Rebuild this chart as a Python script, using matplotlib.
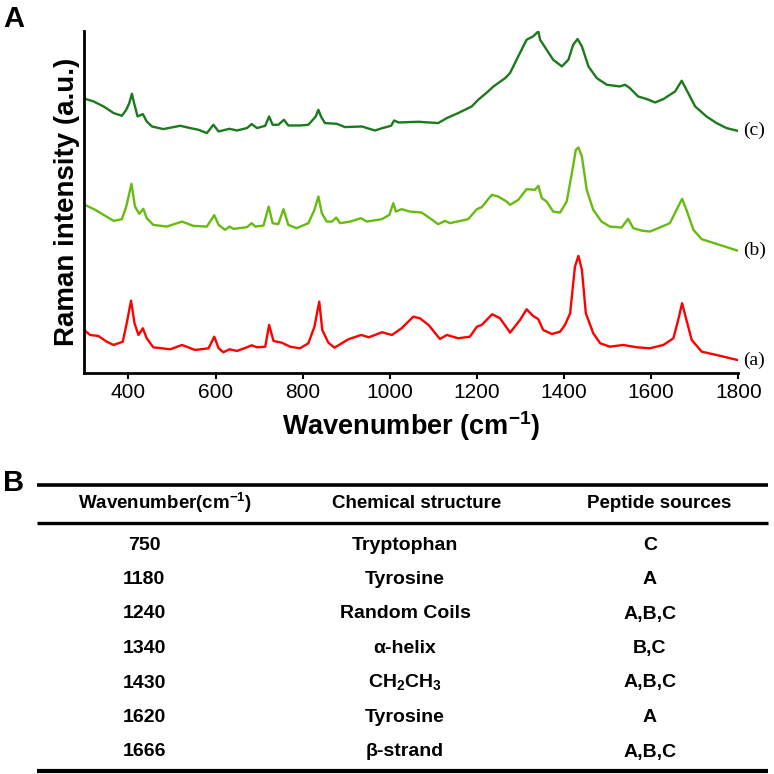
import numpy as np
import matplotlib
matplotlib.use('Agg')
import matplotlib.pyplot as plt

plt.rcParams['font.family'] = ['Liberation Sans', 'DejaVu Sans']
plt.rcParams['mathtext.fontset'] = 'custom'
plt.rcParams['mathtext.rm'] = 'Liberation Sans'
plt.rcParams['mathtext.bf'] = 'Liberation Sans:bold'

# spectrum (a) - red
wn_a = [300, 312, 331, 350, 366, 387, 396, 406, 414, 423, 433, 442, 457, 496, 523, 553, 584, 597, 607, 618,
        632, 649, 672, 683, 695, 714, 723, 733, 752, 771, 794, 813, 827, 838, 845, 859, 873, 905, 934, 952,
        982, 1005, 1027, 1054, 1069, 1089, 1115, 1131, 1157, 1184, 1200, 1211, 1235, 1253, 1272, 1276, 1299,
        1314, 1329, 1341, 1352, 1372, 1391, 1402, 1414, 1425, 1433, 1441, 1450, 1467, 1483, 1505, 1536, 1567,
        1597, 1628, 1651, 1662, 1671, 1679, 1693, 1716, 1750, 1798]
int_a = [42.3, 38, 37, 31.3, 28, 31.3, 49.7, 72.3, 49.7, 38, 44.7, 34.7, 25.7, 23.7, 28, 23, 24.7, 36.3, 24.7, 20.7,
         23.7, 22, 25.7, 27.7, 25.7, 26.3, 48, 32, 30.3, 26.3, 24.7, 29.7, 46.3, 71.3, 43, 30.3, 25.3, 33.7, 38, 35.7,
         40.7, 38, 44.7, 56.3, 54.7, 48, 34, 38, 34.7, 36.3, 46.3, 48, 58.7, 54.7, 43, 40.3, 53,
         63.7, 57, 53.7, 43, 39, 41.3, 48, 59.7, 106.3, 117, 103, 59.7, 39.7, 29.7, 26.3, 28, 25.7,
         24.7, 28, 34.7, 53, 69.7, 56.3, 33, 21.3, 18, 13]

# spectrum (b) - light green
wn_b = [300, 324, 343, 366, 385, 395, 407, 415, 425, 434, 442, 457, 488, 523, 549, 580, 597, 607, 622, 632,
        641, 672, 683, 691, 710, 722, 731, 744, 756, 767, 786, 813, 827, 836, 844, 855, 867, 877, 886, 909,
        934, 947, 982, 999, 1008, 1014, 1027, 1046, 1073, 1092, 1111, 1127, 1138, 1180, 1200, 1211, 1234, 1249,
        1268, 1276, 1295, 1314, 1333, 1341, 1349, 1360, 1375, 1391, 1406, 1418, 1427, 1433, 1441, 1452, 1467,
        1486, 1505, 1532, 1547, 1559, 1578, 1597, 1616, 1643, 1662, 1671, 1681, 1697, 1716, 1750, 1798]
int_b = [168, 163, 158, 152, 153.7, 166.3, 189, 166.3, 159, 164, 154.7, 148, 146.3, 151.3, 147, 146.3, 157.7, 148, 143, 146.3,
         144, 145.7, 149.7, 146.3, 147.3, 166.3, 149.7, 148.7, 163.7, 148, 144.7, 149.7, 163, 176.3, 159.7, 151.3, 151.3, 155.3, 149.7, 151.3,
         154.7, 151.3, 153.7, 158, 169.7, 161.3, 163.7, 161.3, 160.3, 154.7, 148.7, 152, 149.7, 153.7, 163.7, 165.7, 178, 176.3,
         171.3, 168, 173, 183.7, 183, 187, 174.7, 171.3, 161.3, 160.3, 171.3, 199.7, 223, 225.3, 216.3, 183, 163,
         151.3, 146.3, 145.3, 154, 144.7, 142.3, 141.3, 144.7, 149.7, 166.3, 174, 163, 143, 133.7, 129, 122.3]

# spectrum (c) - dark green
wn_c = [300, 320, 343, 366, 385, 395, 402, 408, 413, 421, 433, 442, 454, 480, 519, 542, 561, 580, 595, 607,
        632, 649, 672, 683, 695, 714, 723, 731, 744, 757, 767, 794, 813, 830, 836, 842, 851, 878, 897, 936,
        966, 983, 1003, 1010, 1020, 1066, 1111, 1131, 1157, 1188, 1203, 1223, 1238, 1265, 1276, 1291, 1314,
        1329, 1341, 1345, 1360, 1375, 1395, 1410, 1421, 1431, 1441, 1456, 1475, 1498, 1528, 1540, 1551, 1570,
        1590, 1609, 1628, 1655, 1670, 1681, 1701, 1727, 1750, 1773, 1798]
int_c = [274, 271.3, 266.3, 259.7, 257, 263, 269.7, 279, 269.7, 256.3, 258.7, 251.3, 246.3, 243.7, 247, 244.7, 243, 239.7, 248, 241.3,
         244, 242.3, 244.7, 248.7, 244.7, 247, 256.3, 248, 248, 253, 247.3, 247.3, 248, 256.3, 263, 256.3, 249.7, 249, 245.7, 246.3,
         242.3, 244.7, 247, 252.3, 250.3, 251, 249.7, 254.7, 259.7, 266.3, 273, 280.3, 286.3, 294.7, 299.7, 313, 333,
         336.3, 341.3, 333, 323, 313, 306.3, 313, 328, 333.7, 326.3, 306.3, 294.7, 288, 286.3, 288, 284.7, 276.3,
         273.7, 270.3, 273.7, 281.3, 292, 283, 266.3, 256.3, 249.7, 244.7, 242]

spectra = [(wn_a, int_a, '#ff0000', '(a)'),
           (wn_b, int_b, '#66bb11', '(b)'),
           (wn_c, int_c, '#1b7a1b', '(c)')]

# table B
col_headers = ['Wavenumber(cm$^{\\mathbf{-1}}$)', 'Chemical structure', 'Peptide sources']
peak_wn = ['750', '1180', '1240', '1340', '1430', '1620', '1666']
structures = ['Tryptophan', 'Tyrosine', 'Random Coils', '\u03b1-helix',
              'CH$_{\\mathbf{2}}$CH$_{\\mathbf{3}}$', 'Tyrosine', '\u03b2-strand']
sources = ['C', 'A', 'A,B,C', 'B,C', 'A,B,C', 'A', 'A,B,C']

W = 774
fig = plt.figure(figsize=(7.74, 7.74), dpi=100)

# ---------- panel A ----------
ax = fig.add_axes([84 / W, 1 - 373 / W, (738.3 - 84) / W, (373 - 30.7) / W])
for wn, inten, col, lab in spectra:
    ax.plot(wn, inten, color=col, lw=1.7)
    ax.text(1812, inten[-1], lab, color='black', fontsize=14, family='Liberation Serif',
            ha='left', va='center', clip_on=False)

ax.set_xlim(298, 1800)
ax.set_ylim(0, 342)
ax.spines['top'].set_visible(False)
ax.spines['right'].set_visible(False)
ax.spines['left'].set_linewidth(2)
ax.spines['bottom'].set_linewidth(2)
ax.set_yticks([])
ax.set_xticks([400, 600, 800, 1000, 1200, 1400, 1600, 1800])
ax.tick_params(axis='x', direction='out', length=4.5, width=1.5, labelsize=15, pad=3)
ax.set_xlabel('Wavenumber (cm$^{\\mathbf{-1}}$)', fontsize=19.5, fontweight='bold', labelpad=5)
ax.set_ylabel('Raman intensity (a.u.)', fontsize=20, fontweight='bold', labelpad=3)

fig.text(3 / W, 1 - 27 / W, 'A', fontsize=21, fontweight='bold', ha='left', va='baseline')
fig.text(3 / W, 1 - 491 / W, 'B', fontsize=21, fontweight='bold', ha='left', va='baseline')

# ---------- panel B (table) ----------
tab = fig.add_axes([0, 0, 1, 1])
tab.set_xlim(0, W)
tab.set_ylim(W, 0)
tab.axis('off')

for yy, lw in [(485, 2.6), (523, 2.4), (771, 3)]:
    tab.plot([37, 768], [yy, yy], color='black', lw=lw, solid_capstyle='butt')

head_x = [165, 417, 659]
cell_x = [144, 405, 650]
for hx, txt in zip(head_x, col_headers):
    tab.text(hx, 503, txt, fontsize=13.5, fontweight='bold', ha='center', va='center')

for i in range(len(peak_wn)):
    yy = 545 + i * 34.5
    for cx, txt in zip(cell_x, [peak_wn[i], structures[i], sources[i]]):
        tab.text(cx, yy, txt, fontsize=14, fontweight='bold', ha='center', va='center')

fig.savefig('out.png', dpi=100)
